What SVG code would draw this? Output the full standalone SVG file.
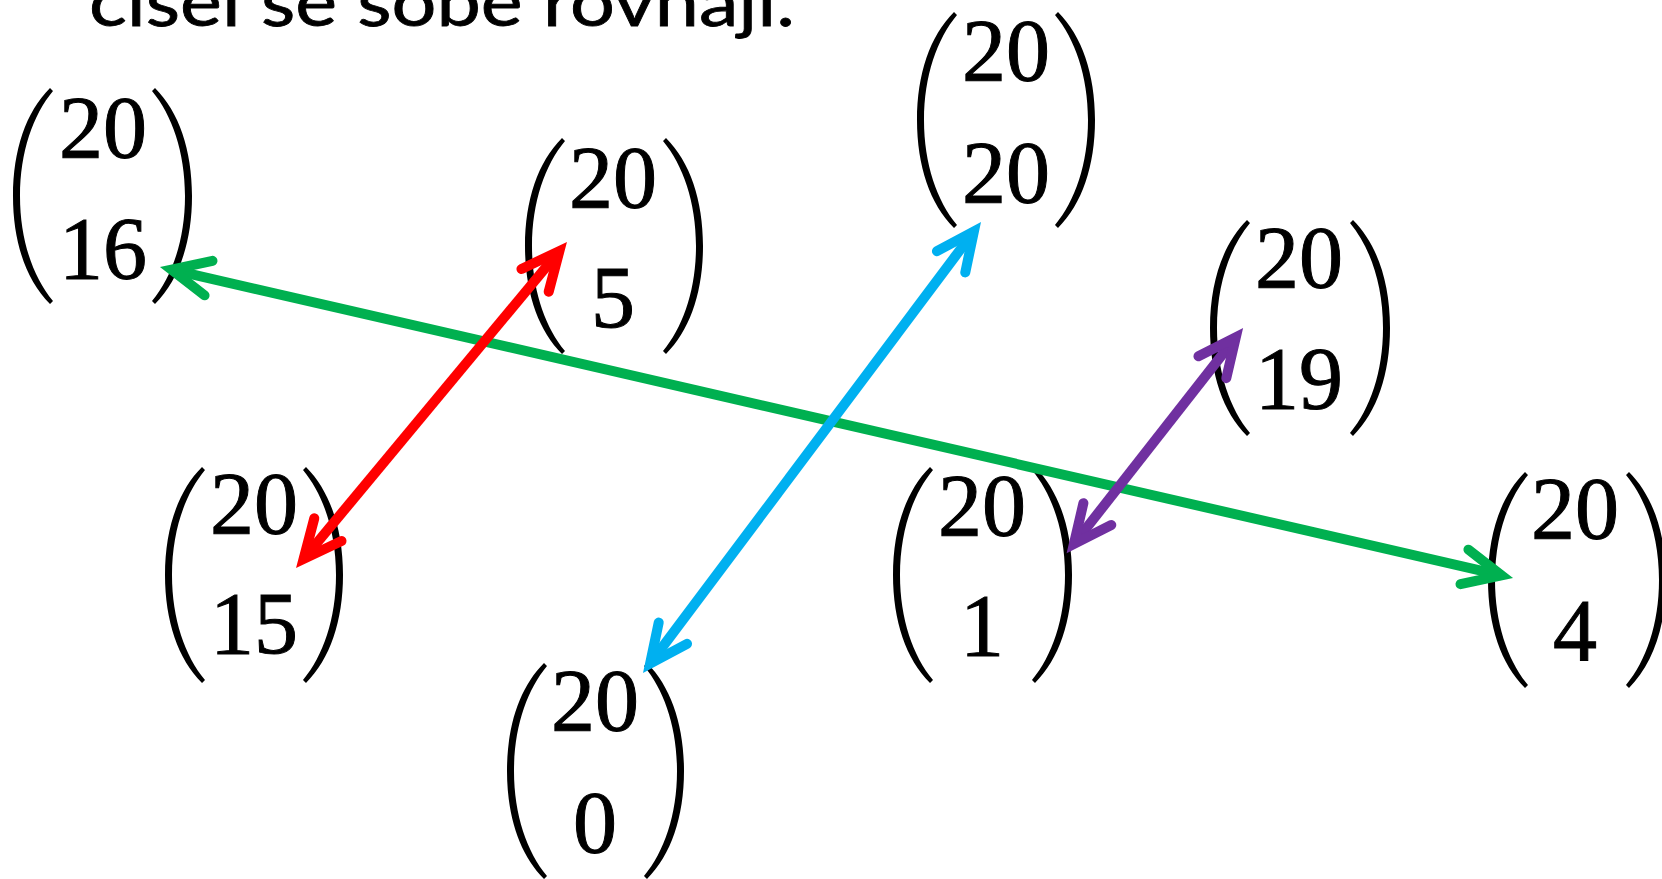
<svg xmlns="http://www.w3.org/2000/svg" xmlns:xlink="http://www.w3.org/1999/xlink" width="1662" height="879" viewBox="0 0 1662 879">
<style>
.t{font-family:"Liberation Serif","Times New Roman",serif;font-size:88px;fill:#000;stroke:#000;stroke-width:1;text-anchor:middle}
.title{font-family:Lato,"Open Sans","Liberation Sans",sans-serif;font-size:68px;fill:#000;stroke:#000;stroke-width:0.8}
.c{fill:none;stroke-width:10;stroke-linecap:butt}
.h{fill:none;stroke-width:10;stroke-linecap:round;stroke-linejoin:miter;stroke-miterlimit:10}
</style>
<defs>
<path id="lp" d="M37,0 C13,24 0,62 0,108 C0,154 13,192 37,216 L40,213 C20,189 7,152 7,108 C7,64 20,27 40,3 Z" fill="#000"/>
<marker id="mg" markerUnits="userSpaceOnUse" orient="auto-start-reverse" refX="0" refY="0" markerWidth="10" markerHeight="10" overflow="visible"><path class="h" stroke="#00B050" d="M-38,-17.7 L0,0 L-38,17.7"/></marker>
<marker id="mr" markerUnits="userSpaceOnUse" orient="auto-start-reverse" refX="0" refY="0" markerWidth="10" markerHeight="10" overflow="visible"><path class="h" stroke="#FF0000" d="M-38,-17.7 L0,0 L-38,17.7"/></marker>
<marker id="mb" markerUnits="userSpaceOnUse" orient="auto-start-reverse" refX="0" refY="0" markerWidth="10" markerHeight="10" overflow="visible"><path class="h" stroke="#00B0F0" d="M-38,-17.7 L0,0 L-38,17.7"/></marker>
<marker id="mp" markerUnits="userSpaceOnUse" orient="auto-start-reverse" refX="0" refY="0" markerWidth="10" markerHeight="10" overflow="visible"><path class="h" stroke="#7030A0" d="M-38,-17.7 L0,0 L-38,17.7"/></marker>
</defs>
<rect width="1662" height="879" fill="#fff"/>
<text class="title" x="89" y="26" textLength="706" lengthAdjust="spacingAndGlyphs">čísel se sobě rovnají.</text>

<g id="n20-16" transform="translate(13,88)"><use xlink:href="#lp"/><use xlink:href="#lp" transform="translate(179,0) scale(-1,1)"/><text class="t" x="90" y="69">20</text><text class="t" x="90" y="190">16</text></g>
<g id="n20-5" transform="translate(525,138)"><use xlink:href="#lp"/><use xlink:href="#lp" transform="translate(178,0) scale(-1,1)"/><text class="t" x="88" y="69">20</text><text class="t" x="88" y="189">5</text></g>
<g id="n20-20" transform="translate(917,12)"><use xlink:href="#lp"/><use xlink:href="#lp" transform="translate(178,0) scale(-1,1)"/><text class="t" x="89" y="68">20</text><text class="t" x="89" y="190">20</text></g>
<g id="n20-19" transform="translate(1210,220)"><use xlink:href="#lp"/><use xlink:href="#lp" transform="translate(180,0) scale(-1,1)"/><text class="t" x="89" y="67">20</text><text class="t" x="89" y="188">19</text></g>
<g id="n20-15" transform="translate(165,467)"><use xlink:href="#lp"/><use xlink:href="#lp" transform="translate(178,0) scale(-1,1)"/><text class="t" x="89" y="66">20</text><text class="t" x="89" y="186">15</text></g>
<g id="n20-1" transform="translate(893,467)"><use xlink:href="#lp"/><use xlink:href="#lp" transform="translate(179,0) scale(-1,1)"/><text class="t" x="89" y="68">20</text><text class="t" x="89" y="188">1</text></g>
<g id="n20-4" transform="translate(1488,472)"><use xlink:href="#lp"/><use xlink:href="#lp" transform="translate(178,0) scale(-1,1)"/><text class="t" x="87" y="66">20</text><text class="t" x="87" y="188">4</text></g>
<g id="n20-0" transform="translate(507,663)"><use xlink:href="#lp"/><use xlink:href="#lp" transform="translate(177,0) scale(-1,1)"/><text class="t" x="88" y="67">20</text><text class="t" x="88" y="189">0</text></g>

<g id="connectors">
<line class="c" stroke="#00B050" x1="171.5" y1="269.6" x2="1501.5" y2="575.4" marker-start="url(#mg)" marker-end="url(#mg)"/>
<line class="c" stroke="#FF0000" x1="303.6" y1="558.9" x2="559.4" y2="251.1" marker-start="url(#mr)" marker-end="url(#mr)"/>
<line class="c" stroke="#00B0F0" x1="650.1" y1="663.6" x2="973.9" y2="231.4" marker-start="url(#mb)" marker-end="url(#mb)"/>
<line class="c" stroke="#7030A0" x1="1073.9" y1="544.0" x2="1235.8" y2="337.3" marker-start="url(#mp)" marker-end="url(#mp)"/>
</g>
</svg>
